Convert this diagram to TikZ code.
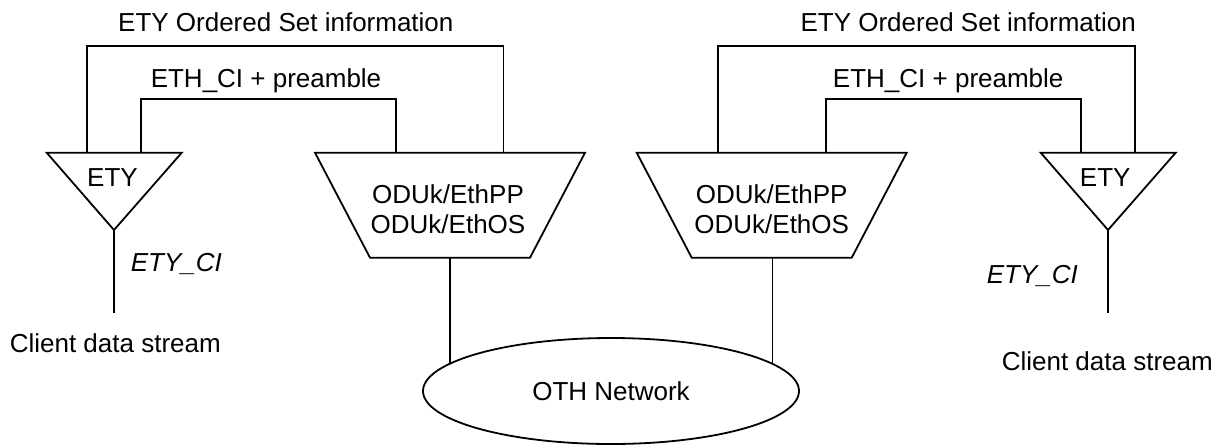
\documentclass[tikz,border=0pt]{standalone}
\usepackage{fontspec}
\setmainfont{Liberation Sans}
\usetikzlibrary{shapes.geometric}
\begin{document}
\begin{tikzpicture}[x=0.5pt,y=-0.5pt,line width=0.9pt,
  lbl/.style={font=\fontsize{13}{15.6}\selectfont,inner sep=0pt,outer sep=0pt,anchor=base},
  ilbl/.style={lbl,font=\fontsize{13}{15.6}\selectfont\itshape},
  netw/.style={draw,ellipse,minimum width=188pt,minimum height=53pt,inner sep=0pt,outer sep=0pt,font=\fontsize{13}{15.6}\selectfont}]
\useasboundingbox (0,0) rectangle (1224,445);

% ---- left ETY triangle
\coordinate (etyLw) at (46.7,152.7);
\coordinate (etyLe) at (181.7,152.7);
\coordinate (etyLa) at (114,230);
\draw (etyLw) -- (etyLe) -- (etyLa) -- cycle;
\node[lbl] (etyLt) at (112.5,186) {ETY};

% ---- left adaptation trapezoid
\coordinate (odLnw) at (315,152.7);
\coordinate (odLne) at (585,152.7);
\coordinate (odLse) at (530,257.7);
\coordinate (odLsw) at (370,257.7);
\draw (odLnw) -- (odLne) -- (odLse) -- (odLsw) -- cycle;
\node[lbl] (odLt1) at (448,203) {ODUk/EthPP};
\node[lbl] (odLt2) at (448,233) {ODUk/EthOS};

% ---- right adaptation trapezoid
\coordinate (odRnw) at (636.7,152.7);
\coordinate (odRne) at (906.7,152.7);
\coordinate (odRse) at (851.7,257.7);
\coordinate (odRsw) at (691.7,257.7);
\draw (odRnw) -- (odRne) -- (odRse) -- (odRsw) -- cycle;
\node[lbl] (odRt1) at (771.7,203) {ODUk/EthPP};
\node[lbl] (odRt2) at (771.7,233) {ODUk/EthOS};

% ---- right ETY triangle
\coordinate (etyRw) at (1040.7,152.7);
\coordinate (etyRe) at (1175.7,152.7);
\coordinate (etyRa) at (1108,230);
\draw (etyRw) -- (etyRe) -- (etyRa) -- cycle;
\node[lbl] (etyRt) at (1105.2,186) {ETY};

% ---- OTH network
\node[netw] (net) at (611,391) {OTH Network};

% ---- connection points
\coordinate (etyLo) at (87.3,152.7);
\coordinate (etyLi) at (141,152.7);
\coordinate (odLi) at (395.7,152.7);
\coordinate (odLo) at (503.5,152.7);
\coordinate (odLb) at (450,257.7);
\coordinate (odRo) at (718.3,152.7);
\coordinate (odRi) at (826,152.7);
\coordinate (odRb) at (772.5,257.7);
\coordinate (etyRi) at (1081,152.7);
\coordinate (etyRo) at (1134.7,152.7);
\coordinate (cliL) at (114,312.7);
\coordinate (cliR) at (1108,312.7);

% ---- connectors
\draw (etyLo) -- ++(0,-107) -| (odLo);
\draw (etyLi) -- ++(0,-53.4) -| (odLi);
\draw (odRo) -- ++(0,-107) -| (etyRo);
\draw (odRi) -- ++(0,-53.4) -| (etyRi);
\draw (odLb) -- (odLb |- net.170);
\draw (odRb) -- (odRb |- net.10);
\draw (etyLa) -- (cliL);
\draw (etyRa) -- (cliR);

% ---- labels
\node[lbl] (lOS) at (285.8,31.7) {ETY Ordered Set information};
\node[lbl] (lCI) at (266,87.3) {ETH\_CI + preamble};
\node[lbl] (rOS) at (968.2,31.7) {ETY Ordered Set information};
\node[lbl] (rCI) at (948.2,87.3) {ETH\_CI + preamble};
\node[ilbl] (lETYCI) at (176.3,271.7) {ETY\_CI};
\node[ilbl] (rETYCI) at (1032.3,283.3) {ETY\_CI};
\node[lbl] (lCDS) at (115.3,352.7) {Client data stream};
\node[lbl] (rCDS) at (1107.3,370) {Client data stream};
\end{tikzpicture}
\end{document}
